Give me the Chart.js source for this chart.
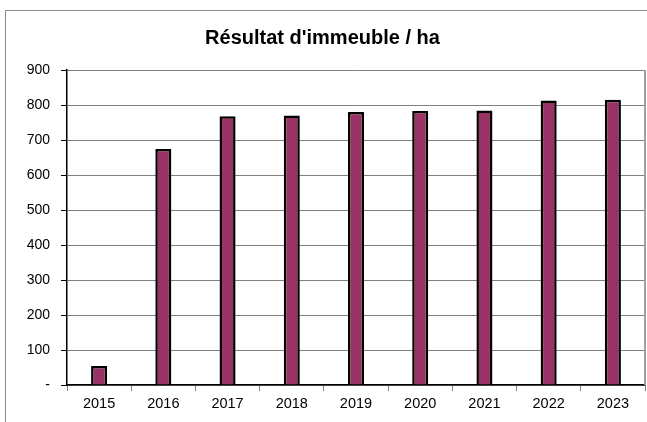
<!DOCTYPE html>
<html><head><meta charset="utf-8">
<script src="https://cdn.jsdelivr.net/npm/chart.js@4/dist/chart.umd.min.js"></script>
<style>html,body{margin:0;padding:0;background:#fff}#wrap{position:relative;width:647px;height:422px}</style>
</head><body><div id="wrap"><canvas id="c" width="647" height="422"></canvas></div>
<script>
const title = "Résultat d'immeuble / ha";
const categories = ["2015","2016","2017","2018","2019","2020","2021","2022","2023"];
const values = [54, 674, 768, 770, 780, 783, 784, 813, 815];
const yTicks = [0,100,200,300,400,500,600,700,800,900];

const frame = {
  id: 'frame',
  beforeDraw(chart) {
    const ctx = chart.ctx;
    ctx.save();
    ctx.fillStyle = '#fff';
    ctx.fillRect(0,0,chart.width,chart.height);
    ctx.strokeStyle = '#8c8c8c';
    ctx.lineWidth = 1;
    ctx.beginPath();
    ctx.moveTo(5.5, 422); ctx.lineTo(5.5, 10.5); ctx.lineTo(647, 10.5);
    ctx.stroke();
    ctx.restore();
  },
  afterDatasetsDraw(chart) {
    const a = chart.chartArea, ctx = chart.ctx;
    ctx.save();
    ctx.strokeStyle = '#a0a0a0';
    ctx.lineWidth = 2;
    ctx.beginPath();
    ctx.moveTo(a.right, a.top); ctx.lineTo(a.right, a.bottom);
    ctx.stroke();
    ctx.restore();
  }
};

new Chart(document.getElementById('c'), {
  type: 'bar',
  data: {
    labels: categories,
    datasets: [{
      data: values,
      backgroundColor: '#993366',
      borderColor: '#000',
      borderWidth: 2.5,
      barPercentage: 0.25,
      categoryPercentage: 1
    }]
  },
  options: {
    responsive: false,
    animation: false,
    layout: { padding: { top: 0, right: 2, left: 0, bottom: 0 } },
    plugins: {
      legend: { display: false },
      tooltip: { enabled: false },
      title: {
        display: true, text: title, color: '#000',
        font: { family: 'Liberation Sans, Arial, sans-serif', size: 20, weight: 'bold' },
        padding: { top: 26, bottom: 20 }
      }
    },
    scales: {
      x: {
        offset: true,
        grid: { offset: true, drawOnChartArea: false, color: '#808080', tickLength: 6, lineWidth: 1 },
        border: { color: '#000', width: 1.5 },
        ticks: { color: '#000', font: { family: 'Liberation Sans, Arial, sans-serif', size: 14.5 }, padding: 4 },
        afterFit(s) { s.height = 37; }
      },
      y: {
        min: 0, max: 900,
        afterBuildTicks(s) { s.ticks = yTicks.map(v => ({ value: v })); },
        grid: { color: '#808080', tickLength: 6, lineWidth: 1, tickColor: '#000' },
        border: { color: '#000', width: 1.5 },
        ticks: {
          color: '#000', padding: 11,
          font: { family: 'Liberation Sans, Arial, sans-serif', size: 14 },
          callback: v => v === 0 ? '-' : String(v)
        },
        afterFit(s) { s.width = 67; }
      }
    }
  },
  plugins: [frame]
});
</script></body></html>
